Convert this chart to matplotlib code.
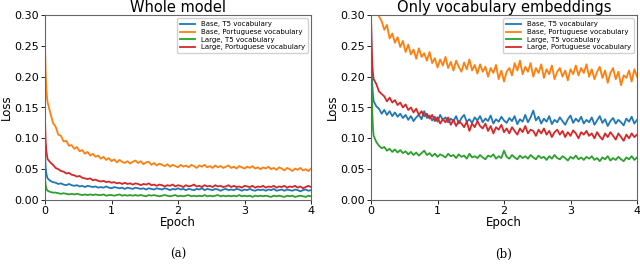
import matplotlib
matplotlib.use("Agg")
import matplotlib.pyplot as plt
import numpy as np

# epochs at which loss was logged (denser at the very start)
epoch = np.concatenate([[0.0, 0.01, 0.02, 0.03], np.arange(1, 101) * 0.04])

labels = ["Base, T5 vocabulary", "Base, Portuguese vocabulary",
          "Large, T5 vocabulary", "Large, Portuguese vocabulary"]
colors = ["#1f77b4", "#ff7f0e", "#2ca02c", "#d62728"]

# (a) whole model
base_t5_a = [
    0.075, 0.052, 0.043, 0.038,
    0.035, 0.031, 0.029, 0.028, 0.026, 0.027, 0.025, 0.024, 0.026, 0.024,
    0.023, 0.024, 0.022, 0.023, 0.021, 0.023, 0.022, 0.021, 0.022, 0.020,
    0.021, 0.020, 0.022, 0.020, 0.019, 0.021, 0.020, 0.019, 0.020, 0.018,
    0.020, 0.019, 0.018, 0.020, 0.019, 0.018, 0.019, 0.017, 0.019, 0.018,
    0.017, 0.019, 0.018, 0.017, 0.019, 0.018, 0.016, 0.018, 0.017, 0.019,
    0.017, 0.018, 0.016, 0.018, 0.017, 0.016, 0.018, 0.017, 0.019, 0.016,
    0.018, 0.017, 0.016, 0.018, 0.017, 0.015, 0.017, 0.018, 0.016, 0.017,
    0.016, 0.018, 0.017, 0.015, 0.017, 0.016, 0.018, 0.016, 0.015, 0.017,
    0.016, 0.017, 0.015, 0.017, 0.016, 0.018, 0.015, 0.016, 0.017, 0.015,
    0.017, 0.016, 0.015, 0.017, 0.016, 0.014, 0.016, 0.017, 0.015, 0.016]
base_pt_a = [
    0.250, 0.205, 0.181, 0.166,
    0.158, 0.141, 0.125, 0.119, 0.106, 0.104, 0.095, 0.096, 0.088, 0.089,
    0.083, 0.086, 0.079, 0.081, 0.075, 0.078, 0.072, 0.075, 0.070, 0.072,
    0.067, 0.070, 0.065, 0.068, 0.063, 0.066, 0.061, 0.065, 0.062, 0.060,
    0.063, 0.059, 0.062, 0.064, 0.060, 0.063, 0.058, 0.061, 0.062, 0.057,
    0.060, 0.056, 0.059, 0.057, 0.055, 0.058, 0.054, 0.057, 0.055, 0.053,
    0.057, 0.054, 0.056, 0.053, 0.057, 0.055, 0.052, 0.056, 0.054, 0.057,
    0.053, 0.055, 0.052, 0.056, 0.053, 0.055, 0.052, 0.054, 0.056, 0.052,
    0.054, 0.051, 0.055, 0.053, 0.051, 0.054, 0.052, 0.055, 0.051, 0.053,
    0.050, 0.053, 0.051, 0.054, 0.050, 0.052, 0.049, 0.053, 0.051, 0.048,
    0.052, 0.050, 0.047, 0.051, 0.049, 0.052, 0.048, 0.050, 0.047, 0.051]
large_t5_a = [
    0.035, 0.024, 0.019, 0.016,
    0.015, 0.013, 0.012, 0.012, 0.011, 0.010, 0.011, 0.010, 0.009, 0.010,
    0.009, 0.010, 0.009, 0.008, 0.009, 0.008, 0.009, 0.008, 0.009, 0.008,
    0.008, 0.009, 0.007, 0.008, 0.008, 0.007, 0.008, 0.009, 0.007, 0.008,
    0.007, 0.008, 0.007, 0.008, 0.007, 0.008, 0.007, 0.006, 0.008, 0.007,
    0.008, 0.007, 0.006, 0.007, 0.008, 0.007, 0.006, 0.007, 0.008, 0.006,
    0.007, 0.006, 0.007, 0.008, 0.006, 0.007, 0.006, 0.007, 0.006, 0.008,
    0.006, 0.007, 0.006, 0.007, 0.008, 0.006, 0.007, 0.006, 0.007, 0.006,
    0.007, 0.006, 0.008, 0.006, 0.007, 0.006, 0.007, 0.005, 0.007, 0.006,
    0.007, 0.006, 0.007, 0.006, 0.005, 0.007, 0.006, 0.007, 0.006, 0.005,
    0.007, 0.006, 0.007, 0.005, 0.006, 0.007, 0.006, 0.005, 0.007, 0.006]
large_pt_a = [
    0.130, 0.095, 0.080, 0.072,
    0.066, 0.061, 0.057, 0.052, 0.050, 0.047, 0.046, 0.043, 0.044, 0.041,
    0.040, 0.038, 0.039, 0.036, 0.035, 0.034, 0.035, 0.032, 0.033, 0.031,
    0.030, 0.031, 0.029, 0.030, 0.028, 0.029, 0.027, 0.028, 0.026, 0.028,
    0.026, 0.027, 0.025, 0.027, 0.026, 0.024, 0.026, 0.025, 0.027, 0.024,
    0.025, 0.023, 0.025, 0.024, 0.022, 0.024, 0.023, 0.025, 0.022, 0.024,
    0.023, 0.021, 0.024, 0.022, 0.023, 0.025, 0.022, 0.023, 0.021, 0.024,
    0.022, 0.023, 0.021, 0.024, 0.022, 0.023, 0.021, 0.022, 0.024, 0.021,
    0.023, 0.021, 0.022, 0.020, 0.023, 0.022, 0.021, 0.023, 0.020, 0.022,
    0.021, 0.023, 0.020, 0.022, 0.021, 0.023, 0.020, 0.022, 0.021, 0.023,
    0.020, 0.022, 0.021, 0.023, 0.020, 0.022, 0.019, 0.021, 0.023, 0.021]

# (b) only vocabulary embeddings
base_t5_b = [
    0.300, 0.215, 0.185, 0.170,
    0.160, 0.152, 0.148, 0.140, 0.146, 0.138, 0.144, 0.136, 0.142, 0.135,
    0.140, 0.133, 0.138, 0.130, 0.136, 0.128, 0.134, 0.138, 0.131, 0.144,
    0.133, 0.137, 0.129, 0.135, 0.127, 0.138, 0.130, 0.134, 0.126, 0.132,
    0.128, 0.136, 0.124, 0.133, 0.138, 0.127, 0.131, 0.125, 0.134, 0.129,
    0.136, 0.126, 0.132, 0.128, 0.137, 0.124, 0.131, 0.127, 0.135, 0.129,
    0.125, 0.133, 0.128, 0.136, 0.123, 0.131, 0.127, 0.138, 0.126, 0.134,
    0.145, 0.129, 0.135, 0.124, 0.132, 0.127, 0.136, 0.123, 0.130, 0.126,
    0.134, 0.128, 0.122, 0.131, 0.137, 0.125, 0.132, 0.127, 0.135, 0.124,
    0.130, 0.126, 0.134, 0.122, 0.129, 0.136, 0.125, 0.131, 0.120, 0.128,
    0.133, 0.124, 0.130, 0.126, 0.121, 0.132, 0.127, 0.135, 0.124, 0.130]
base_pt_b = [
    0.420, 0.390, 0.365, 0.345,
    0.330, 0.312, 0.298, 0.290, 0.276, 0.284, 0.262, 0.270, 0.255, 0.264,
    0.248, 0.258, 0.240, 0.252, 0.236, 0.244, 0.229, 0.246, 0.232, 0.238,
    0.226, 0.240, 0.222, 0.230, 0.215, 0.228, 0.218, 0.232, 0.214, 0.224,
    0.210, 0.226, 0.216, 0.208, 0.223, 0.212, 0.228, 0.210, 0.219, 0.205,
    0.220, 0.208, 0.216, 0.200, 0.214, 0.206, 0.219, 0.196, 0.210, 0.192,
    0.208, 0.214, 0.202, 0.222, 0.210, 0.226, 0.204, 0.216, 0.208, 0.222,
    0.200, 0.214, 0.206, 0.220, 0.198, 0.212, 0.204, 0.218, 0.196, 0.208,
    0.214, 0.200, 0.210, 0.194, 0.212, 0.204, 0.218, 0.202, 0.214, 0.206,
    0.220, 0.200, 0.212, 0.196, 0.208, 0.216, 0.198, 0.210, 0.190, 0.206,
    0.214, 0.196, 0.208, 0.186, 0.202, 0.198, 0.210, 0.192, 0.212, 0.200]
large_t5_b = [
    0.270, 0.190, 0.140, 0.115,
    0.104, 0.094, 0.088, 0.084, 0.086, 0.080, 0.083, 0.078, 0.082, 0.077,
    0.081, 0.076, 0.079, 0.074, 0.078, 0.073, 0.077, 0.072, 0.076, 0.080,
    0.073, 0.076, 0.071, 0.075, 0.070, 0.074, 0.072, 0.069, 0.075, 0.071,
    0.073, 0.068, 0.074, 0.070, 0.072, 0.067, 0.075, 0.069, 0.071, 0.068,
    0.073, 0.069, 0.066, 0.072, 0.070, 0.074, 0.067, 0.071, 0.068, 0.080,
    0.070, 0.067, 0.073, 0.069, 0.066, 0.072, 0.068, 0.071, 0.067, 0.073,
    0.069, 0.066, 0.072, 0.068, 0.070, 0.065, 0.071, 0.067, 0.073, 0.068,
    0.066, 0.071, 0.068, 0.064, 0.070, 0.067, 0.072, 0.066, 0.069, 0.065,
    0.070, 0.067, 0.071, 0.065, 0.068, 0.063, 0.069, 0.066, 0.071, 0.064,
    0.068, 0.065, 0.070, 0.066, 0.063, 0.069, 0.066, 0.071, 0.065, 0.069]
large_pt_b = [
    0.300, 0.250, 0.220, 0.205,
    0.196, 0.188, 0.176, 0.172, 0.168, 0.160, 0.166, 0.158, 0.162, 0.154,
    0.158, 0.150, 0.155, 0.146, 0.150, 0.142, 0.148, 0.138, 0.144, 0.136,
    0.140, 0.132, 0.138, 0.128, 0.134, 0.124, 0.131, 0.126, 0.134, 0.122,
    0.130, 0.120, 0.128, 0.124, 0.118, 0.127, 0.112, 0.124, 0.118, 0.128,
    0.120, 0.116, 0.124, 0.112, 0.120, 0.108, 0.118, 0.114, 0.122, 0.110,
    0.116, 0.108, 0.118, 0.112, 0.106, 0.116, 0.110, 0.120, 0.108, 0.114,
    0.112, 0.104, 0.114, 0.108, 0.116, 0.106, 0.112, 0.102, 0.110, 0.114,
    0.106, 0.112, 0.102, 0.110, 0.104, 0.113, 0.108, 0.100, 0.110, 0.106,
    0.112, 0.104, 0.108, 0.100, 0.110, 0.103, 0.098, 0.108, 0.102, 0.110,
    0.104, 0.098, 0.108, 0.102, 0.096, 0.106, 0.100, 0.108, 0.102, 0.106]

panels = [
    ("Whole model", "(a)", [base_t5_a, base_pt_a, large_t5_a, large_pt_a]),
    ("Only vocabulary embeddings", "(b)", [base_t5_b, base_pt_b, large_t5_b, large_pt_b]),
]

fig = plt.figure(figsize=(6.4, 2.8), dpi=100)
lefts = [45 / 640, 371 / 640]

for left, (title, caption, series) in zip(lefts, panels):
    ax = fig.add_axes([left, 80 / 280, 266 / 640, 185 / 280])
    for ys, lab, c in zip(series, labels, colors):
        ax.plot(epoch, ys, color=c, lw=1.3, label=lab)
    ax.set_xlim(0, 4)
    ax.set_ylim(0, 0.30)
    ax.set_xticks([0, 1, 2, 3, 4])
    ax.set_yticks(np.arange(0, 0.301, 0.05))
    ax.yaxis.set_major_formatter(plt.FormatStrFormatter("%.2f"))
    ax.tick_params(labelsize=8, length=3, width=0.6, pad=1.5)
    for sp in ax.spines.values():
        sp.set_color("#666666")
        sp.set_linewidth(0.8)
    ax.set_title(title, fontsize=10.5, pad=2)
    ax.set_xlabel("Epoch", fontsize=8.5, labelpad=0)
    ax.set_ylabel("Loss", fontsize=8.5, labelpad=1)
    ax.legend(loc="upper right", fontsize=5, handlelength=2.2,
              borderpad=0.4, labelspacing=0.25, framealpha=0.9)
    fig.text(left + 133 / 640, 26 / 280, caption, ha="center", va="center",
             fontsize=8.5, family="DejaVu Serif")

fig.savefig("out.png", dpi=100)
